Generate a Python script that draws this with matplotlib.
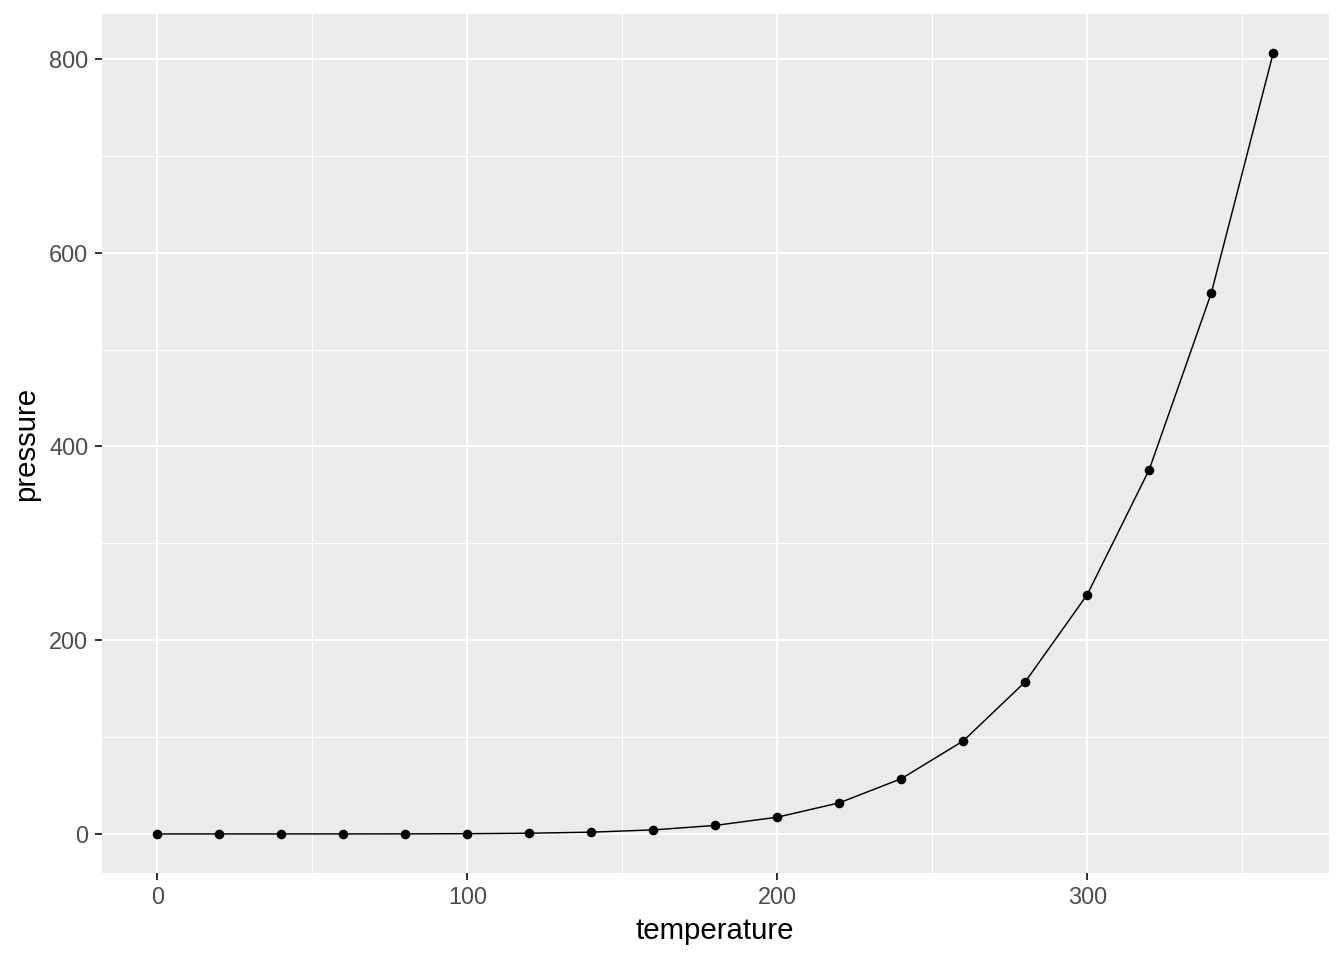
import matplotlib
matplotlib.use("Agg")
import matplotlib.pyplot as plt

temperature = [0, 20, 40, 60, 80, 100, 120, 140, 160, 180, 200, 220, 240, 260, 280, 300, 320, 340, 360]
pressure = [0.0002, 0.0012, 0.006, 0.03, 0.09, 0.27, 0.75, 1.85, 4.2, 8.8, 17.3, 32.1, 57.0, 96.0,
            157.0, 247.0, 376.0, 558.0, 806.0]
x_ticks = [0, 100, 200, 300]
y_ticks = [0, 200, 400, 600, 800]
x_minor = [50, 150, 250, 350]
y_minor = [100, 300, 500, 700]

plt.rcParams['font.family'] = ['Liberation Sans', 'DejaVu Sans']
fig = plt.figure(figsize=(14, 10), dpi=96)
ax = fig.add_axes([101.5/1344, 1 - 873/960, (1329-101.5)/1344, (873-14)/960])
ax.set_facecolor('#EBEBEB')
for s in ax.spines.values():
    s.set_visible(False)

xr = max(temperature) - min(temperature)
yr = max(pressure) - min(pressure)
ax.set_xlim(min(temperature) - 0.05*xr, max(temperature) + 0.05*xr)
ax.set_ylim(min(pressure) - 0.05*yr, max(pressure) + 0.05*yr)

for v in x_minor:
    ax.axvline(v, color='white', lw=0.8, zorder=0.5)
for v in y_minor:
    ax.axhline(v, color='white', lw=0.8, zorder=0.5)
for v in x_ticks:
    ax.axvline(v, color='white', lw=1.5, zorder=0.6)
for v in y_ticks:
    ax.axhline(v, color='white', lw=1.5, zorder=0.6)

ax.plot(temperature, pressure, color='black', lw=1.1, zorder=2)
ax.scatter(temperature, pressure, color='black', s=52, zorder=3, linewidths=0)

ax.set_xticks(x_ticks)
ax.set_yticks(y_ticks)
ax.set_xticklabels([str(v) for v in x_ticks])
ax.set_yticklabels([str(v) for v in y_ticks])
ax.tick_params(axis='both', length=5.5, width=1.5, color='#333333', labelcolor='#4D4D4D',
               labelsize=17.6, pad=4.4)
ax.set_xlabel('temperature', fontsize=22, color='black', labelpad=6)
ax.set_ylabel('pressure', fontsize=22, color='black', labelpad=7)

fig.savefig('out.png', dpi=96, facecolor='white')
